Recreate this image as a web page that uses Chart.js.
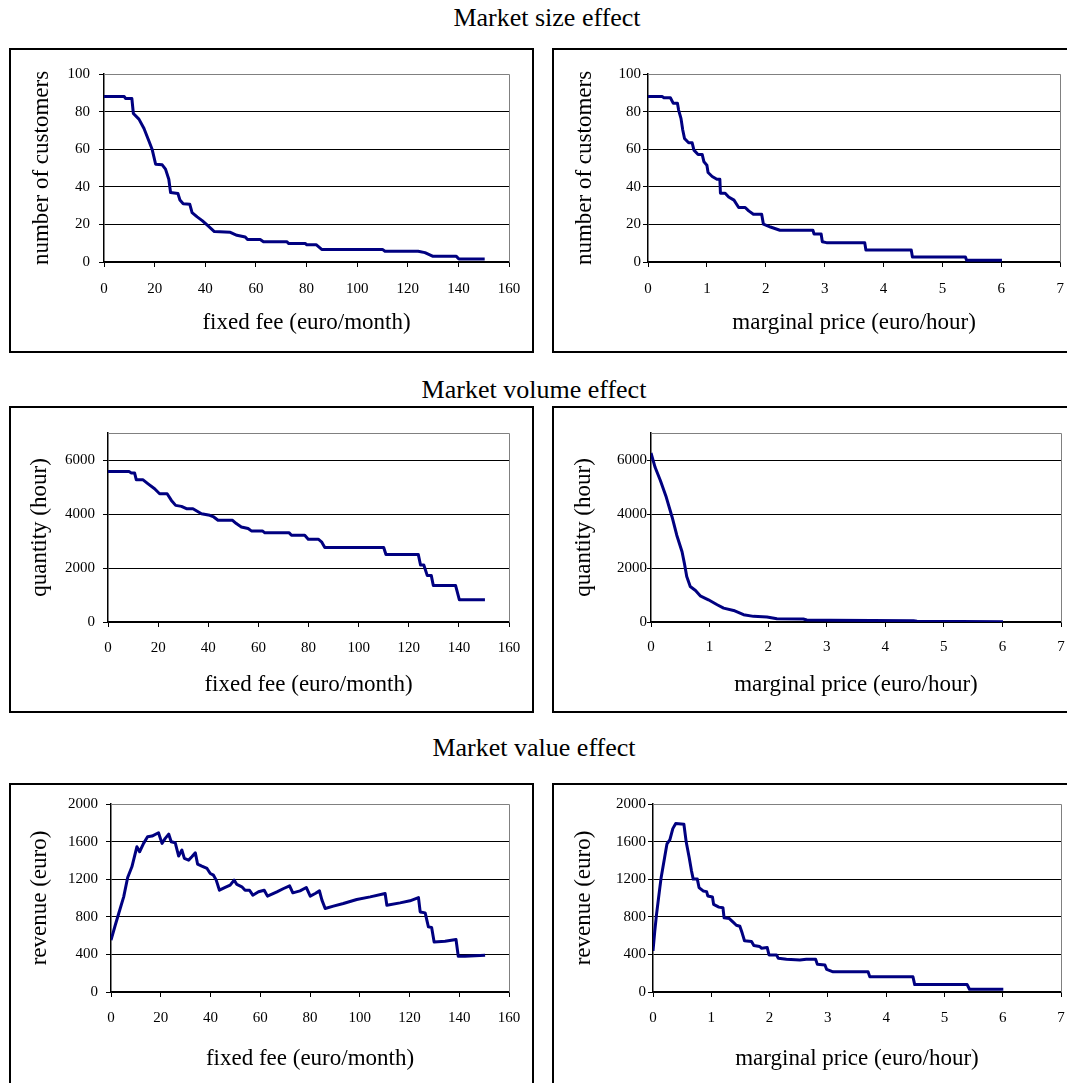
<!DOCTYPE html>
<html><head><meta charset="utf-8">
<script src="https://cdn.jsdelivr.net/npm/chart.js@4.4.0/dist/chart.umd.min.js"></script>
<style>
html,body{margin:0;padding:0;background:#fff;}
body{width:1067px;height:1083px;overflow:hidden;position:relative;font-family:'Liberation Serif','Times New Roman',serif;}
.h{position:absolute;font-size:26px;line-height:26px;white-space:nowrap;transform:translateX(-50%);color:#000}
.box{position:absolute;overflow:visible}
.box canvas{position:absolute;left:0;top:0}
.frame{position:absolute;left:0;top:0;border:2px solid #000;box-sizing:border-box;pointer-events:none}
</style></head><body>
<div class="h" style="left:547px;top:5px">Market size effect</div>
<div class="h" style="left:534px;top:377px">Market volume effect</div>
<div class="h" style="left:534px;top:735px">Market value effect</div>
<div id="boxes"></div>
<script>
// ---- tick labels ----
const feeTicks = [0,20,40,60,80,100,120,140,160];
const priceTicks = [0,1,2,3,4,5,6,7];
const custTicks = [0,20,40,60,80,100];
const qtyTicks = [0,2000,4000,6000];
const revTicks = [0,400,800,1200,1600,2000];

// ---- Market size effect ----
const sizeFeeX = [0,8,8.5,11,11.6,13.8,15.8,17.7,19,20.4,23,24.3,25.6,26.3,29.2,30,31.3,33.9,34.8,36.8,38.8,40.7,43.6,49.9,52.5,55.8,56.7,61.7,63,72.2,73,79.5,80.1,83.8,86,110,111,124.1,126.8,130,139.2,140.2,150.4];
const sizeFeeY = [88,88,87,87,79,76,71,64.5,60,52,51.7,49.4,44,37,36.4,33,31,30.7,26.3,24,22,19.7,16.2,15.8,14.2,13.3,12,12,10.8,10.8,9.8,9.8,9.2,9.2,6.7,6.7,5.7,5.7,5,3,3,1.6,1.6];
const sizePriceX = [0,0.24,0.27,0.38,0.43,0.5,0.52,0.56,0.59,0.62,0.69,0.75,0.78,0.85,0.92,0.95,1.0,1.02,1.09,1.17,1.22,1.23,1.31,1.37,1.46,1.54,1.65,1.71,1.79,1.93,1.96,2.08,2.24,2.8,2.82,2.94,2.96,3.03,3.68,3.7,4.47,4.49,5.39,5.41,6.01];
const sizePriceY = [88,88,87.4,87.4,84.4,84.4,80.8,76.4,70.2,65.7,63.4,63.4,59.5,57.2,57.2,53.3,51.5,47.6,45.5,44,44,36.6,36.6,34.6,32.9,29,29,27.2,25.4,25.4,20.1,18.6,16.9,16.9,14.9,14.9,10.8,10.3,10.3,6.4,6.4,2.7,2.7,0.9,0.9];

// ---- Market volume effect ----
const volFeeX = [0,8.4,9.3,10.6,11.3,14,16,18.6,20.6,23.6,25.3,27,29.3,31.3,33.9,37.3,40.6,42.2,43.9,49.7,51.2,53.2,55.9,57.2,61.6,62.6,72.3,73.2,78.5,79.9,83.9,85.2,86.5,110,110.9,123.8,124.7,126,127.4,129,129.8,138.7,140.2,150.4];
const volFeeY = [5571,5571,5521,5521,5264,5264,5117,4933,4748,4748,4503,4319,4282,4196,4196,4012,3951,3890,3767,3767,3644,3521,3460,3374,3374,3301,3301,3215,3215,3067,3067,2969,2761,2761,2503,2503,2110,2110,1718,1718,1350,1350,822,822];
const volPriceX = [0,0.07,0.16,0.26,0.36,0.44,0.53,0.57,0.61,0.67,0.76,0.84,0.98,1.13,1.24,1.41,1.58,1.75,1.98,2.15,2.6,2.66,3.06,4.48,4.54,6.01];
const volPriceY = [6258,5730,5239,4626,3890,3215,2601,2172,1681,1313,1166,969,822,638,515,429,270,209,184,123,110,74,61,49,25,12];

// ---- Market value effect ----
const valFeeX = [0,1.7,3.1,5.1,6.7,8.4,10.4,11.5,13.1,14.7,16.5,19.1,20.5,21.8,23.2,24.2,25.8,27.2,28.5,29.5,31.2,32.5,33.9,34.8,36.5,38.6,39.9,41.2,42.3,43.6,45.9,47.9,49.5,50.6,52.6,53.9,55.7,57,59.3,61.6,62.9,66.7,69.4,71.8,73.1,76,78.5,80.1,82.1,83.8,84.8,86.1,89.4,93.4,98.8,104.2,110.2,110.9,116.2,120.2,123.6,124.3,126.3,127.6,128.9,129.9,134.3,138.7,139.6,142.3,150.4];
const valFeeY = [551,710,835,1012,1218,1332,1545,1492,1581,1652,1659,1694,1581,1634,1680,1599,1588,1446,1510,1421,1403,1439,1481,1361,1339,1314,1261,1243,1190,1083,1112,1137,1190,1144,1119,1083,1083,1030,1066,1083,1020,1066,1101,1130,1055,1076,1112,1020,1048,1076,977,888,913,941,984,1012,1048,923,948,970,1005,852,842,693,686,533,540,558,380,380,391];
const valPriceX = [0,0.03,0.06,0.11,0.14,0.2,0.24,0.29,0.34,0.39,0.53,0.57,0.62,0.66,0.69,0.76,0.79,0.86,0.92,0.94,1.02,1.04,1.13,1.2,1.22,1.31,1.37,1.43,1.49,1.53,1.57,1.69,1.73,1.83,1.86,1.96,1.99,2.12,2.15,2.29,2.52,2.63,2.79,2.82,2.95,2.98,3.09,3.69,3.72,4.46,4.49,5.39,5.43,6.01];
const valPriceY = [437,645,824,1075,1219,1434,1577,1620,1738,1792,1785,1595,1434,1290,1201,1201,1111,1075,1068,1022,1011,932,903,896,789,781,746,710,699,627,545,538,495,484,466,473,394,394,358,348,340,348,348,294,287,240,215,215,161,161,79,79,29,29];

const F = "'Liberation Serif','Times New Roman',serif";
const LINE = '#000080';

const framePlugin = {
  id: 'plotFrame',
  beforeDatasetsDraw(ch) {
    const a = ch.chartArea, c = ch.ctx;
    c.save();
    c.strokeStyle = '#808080'; c.lineWidth = 1;
    c.beginPath();
    c.moveTo(a.left, Math.round(a.top) + 0.5);
    c.lineTo(Math.round(a.right) + 0.5, Math.round(a.top) + 0.5);
    c.lineTo(Math.round(a.right) + 0.5, a.bottom);
    c.stroke();
    c.restore();
  }
};

function makePanel(L, xs, ys, xT, yT, yMax, xTitle, yTitle) {
  const wrap = document.createElement('div');
  wrap.className = 'box';
  wrap.style.left = L.left + 'px'; wrap.style.top = L.top + 'px';
  wrap.style.width = L.w + 'px'; wrap.style.height = L.fh + 'px';
  const cv = document.createElement('canvas');
  cv.width = L.w; cv.height = L.h;
  cv.style.width = L.w + 'px'; cv.style.height = L.h + 'px';
  wrap.appendChild(cv);
  const fr = document.createElement('div');
  fr.className = 'frame';
  fr.style.width = L.w + 'px'; fr.style.height = L.fh + 'px';
  wrap.appendChild(fr);
  document.getElementById('boxes').appendChild(wrap);

  const data = xs.map((x, i) => ({x: x, y: ys[i]}));
  new Chart(cv, {
    type: 'line',
    data: {datasets: [{data: data, borderColor: LINE, borderWidth: 3, pointRadius: 0, fill: false, tension: 0, borderJoinStyle: 'round'}]},
    options: {
      responsive: false, animation: false, events: [],
      layout: {padding: {top: L.pt, right: L.pr, left: 0, bottom: 0}},
      plugins: {legend: {display: false}, tooltip: {enabled: false}},
      scales: {
        x: {
          type: 'linear', min: xT[0], max: xT[xT.length - 1],
          afterFit: s => { s.height = L.xh; },
          afterBuildTicks: s => { s.ticks = xT.map(v => ({value: v})); },
          grid: {drawOnChartArea: false, drawTicks: true, tickLength: 5, color: '#000', lineWidth: 1},
          border: {color: '#000', width: 1.5},
          ticks: {autoSkip: false, maxRotation: 0, padding: L.xp, color: '#000', font: {family: F, size: 15}, callback: v => String(v)},
          title: {display: true, text: xTitle, color: '#000', font: {family: F, size: 23}, padding: {top: 0, bottom: L.xtb}}
        },
        y: {
          type: 'linear', min: 0, max: yMax,
          afterFit: s => { s.width = L.yw; },
          afterBuildTicks: s => { s.ticks = yT.map(v => ({value: v})); },
          grid: {color: c => (c.tick && c.tick.value === yMax) ? '#808080' : '#000', tickColor: '#000', tickLength: L.tl, lineWidth: 1},
          border: {color: '#000', width: 1.5},
          ticks: {padding: L.yp, color: '#000', font: {family: F, size: 15}, callback: v => String(v)},
          title: {display: true, text: yTitle, color: '#000', font: {family: F, size: 23}, padding: {top: L.ytp, bottom: 0}}
        }
      }
    },
    plugins: [framePlugin]
  });
}

makePanel({left: 9, top: 48, w: 525, h: 305, fh: 305, pt: 26, pr: 25, yw: 95, xh: 91, xp: 13, yp: 9, tl: 5, xtb: 16, ytp: 19},
  sizeFeeX, sizeFeeY, feeTicks, custTicks, 100, 'fixed fee (euro/month)', 'number of customers');
makePanel({left: 552, top: 48, w: 525, h: 305, fh: 305, pt: 26, pr: 16, yw: 96, xh: 91, xp: 13, yp: 2, tl: 5, xtb: 16, ytp: 19},
  sizePriceX, sizePriceY, priceTicks, custTicks, 100, 'marginal price (euro/hour)', 'number of customers');
makePanel({left: 9, top: 406, w: 525, h: 307, fh: 307, pt: 27, pr: 25, yw: 99, xh: 91, xp: 12, yp: 8, tl: 5, xtb: 14, ytp: 17},
  volFeeX, volFeeY, feeTicks, qtyTicks, 7000, 'fixed fee (euro/month)', 'quantity (hour)');
makePanel({left: 552, top: 406, w: 525, h: 307, fh: 307, pt: 27, pr: 16, yw: 99, xh: 91, xp: 11, yp: 0, tl: 4, xtb: 14, ytp: 18},
  volPriceX, volPriceY, priceTicks, qtyTicks, 7000, 'marginal price (euro/hour)', 'quantity (hour)');
makePanel({left: 9, top: 783, w: 525, h: 300, fh: 306, pt: 21, pr: 25, yw: 102, xh: 91, xp: 12, yp: 8, tl: 5, xtb: 10, ytp: 17},
  valFeeX, valFeeY, feeTicks, revTicks, 2000, 'fixed fee (euro/month)', 'revenue (euro)');
makePanel({left: 552, top: 783, w: 525, h: 300, fh: 306, pt: 21, pr: 16, yw: 101, xh: 91, xp: 12, yp: 2, tl: 5, xtb: 10, ytp: 18},
  valPriceX, valPriceY, priceTicks, revTicks, 2000, 'marginal price (euro/hour)', 'revenue (euro)');
</script>
</body></html>
